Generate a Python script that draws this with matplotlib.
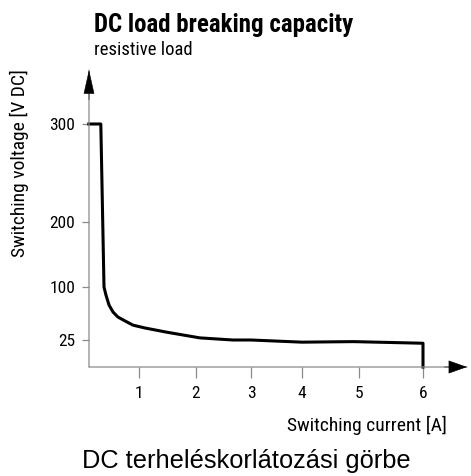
import numpy as np
import matplotlib
matplotlib.use('Agg')
import matplotlib.pyplot as plt

# DC load breaking capacity, resistive load
current = [0.12, 0.33, 0.386, 0.42, 0.474, 0.544, 0.63, 0.754, 0.895, 1.105, 1.49, 2.07, 2.67, 3.00, 4.00, 4.90, 6.00, 6.00]
voltage = [300, 300, 100, 88.7, 74.5, 64.6, 57.5, 52, 46, 42, 36, 28, 25, 25, 23, 23.5, 22, 0]

x_ticks = [1, 2, 3, 4, 5, 6]
y_ticks = [25, 100, 200, 300]

title = 'DC load breaking capacity'
subtitle = 'resistive load'
x_label = 'Switching current [A]'
y_label = 'Switching voltage [V DC]'
caption = 'DC terheléskorlátozási görbe'

# the drawing's axes are not linear, so map values onto it piecewise
x_vals = np.array([0, 1, 2, 3, 4, 5, 6, 7], dtype=float)
x_pos = np.array([82, 139, 196, 251, 302, 359, 423, 487], dtype=float)
y_vals = np.array([0, 25, 100, 200, 300, 400], dtype=float)
y_pos = np.array([0, 27, 80, 145, 243, 341], dtype=float)

def xf(v): return np.interp(v, x_vals, x_pos)
def xi(p): return np.interp(p, x_pos, x_vals)
def yf(v): return np.interp(v, y_vals, y_pos)
def yi(p): return np.interp(p, y_pos, y_vals)

plt.rcParams['font.family'] = ['Roboto Condensed', 'DejaVu Sans']

W, H = 471, 476
fig = plt.figure(figsize=(W/100, H/100), dpi=100)
ax = fig.add_axes([89/W, 1 - 367/H, (467-89)/W, (367-70)/H])

ax.set_xscale('function', functions=(xf, xi))
ax.set_yscale('function', functions=(yf, yi))
ax.set_xlim(float(xi(89)), float(xi(467)))
ax.set_ylim(0, float(yi(297)))

ax.plot(current, voltage, color='black', lw=2.2, solid_joinstyle='round', clip_on=False)

for s in ['top', 'right', 'left', 'bottom']:
    ax.spines[s].set_visible(False)

gray = '#8a8a8a'
ax.annotate('', xy=(1, 0), xytext=(0, 0), xycoords='axes fraction',
            arrowprops=dict(arrowstyle='-', color=gray, lw=0.9, shrinkA=0, shrinkB=0))
ax.annotate('', xy=(0, 1), xytext=(0, 0), xycoords='axes fraction',
            arrowprops=dict(arrowstyle='-', color=gray, lw=0.9, shrinkA=0, shrinkB=0))
ax.annotate('', xy=(1, 0), xytext=(0.94, 0), xycoords='axes fraction',
            arrowprops=dict(arrowstyle='-|>,head_length=0.62,head_width=0.22', color='black',
                            lw=0.4, shrinkA=0, shrinkB=0, mutation_scale=20))
ax.annotate('', xy=(0, 1), xytext=(0, 0.9), xycoords='axes fraction',
            arrowprops=dict(arrowstyle='-|>,head_length=0.8,head_width=0.18', color='black',
                            lw=0.4, shrinkA=0, shrinkB=0, mutation_scale=20))

ax.set_xticks(x_ticks)
ax.set_xticklabels([str(t) for t in x_ticks])
ax.set_yticks(y_ticks)
ax.set_yticklabels([str(t) for t in y_ticks])
ax.minorticks_off()
ax.tick_params(axis='x', direction='out', length=8, width=0.9, color=gray, pad=6, labelsize=12.5)
ax.tick_params(axis='y', direction='out', length=5, width=0.9, color=gray, pad=5, labelsize=12.5)

fig.text(94/W, 1 - 32/H, title, fontsize=17.9, fontweight='bold', va='baseline', ha='left')
fig.text(94/W, 1 - 55/H, subtitle, fontsize=13.4, va='baseline', ha='left')
fig.text(447/W, 1 - 431/H, x_label, fontsize=14, va='baseline', ha='right')
fig.text(19/W, 1 - 163/H, y_label, fontsize=14, va='center', ha='center', rotation=90)
fig.text(246/W, 1 - 468/H, caption, fontsize=18.3, va='baseline', ha='center',
         family=['Liberation Sans', 'DejaVu Sans'])

fig.savefig('out.png', dpi=100)
